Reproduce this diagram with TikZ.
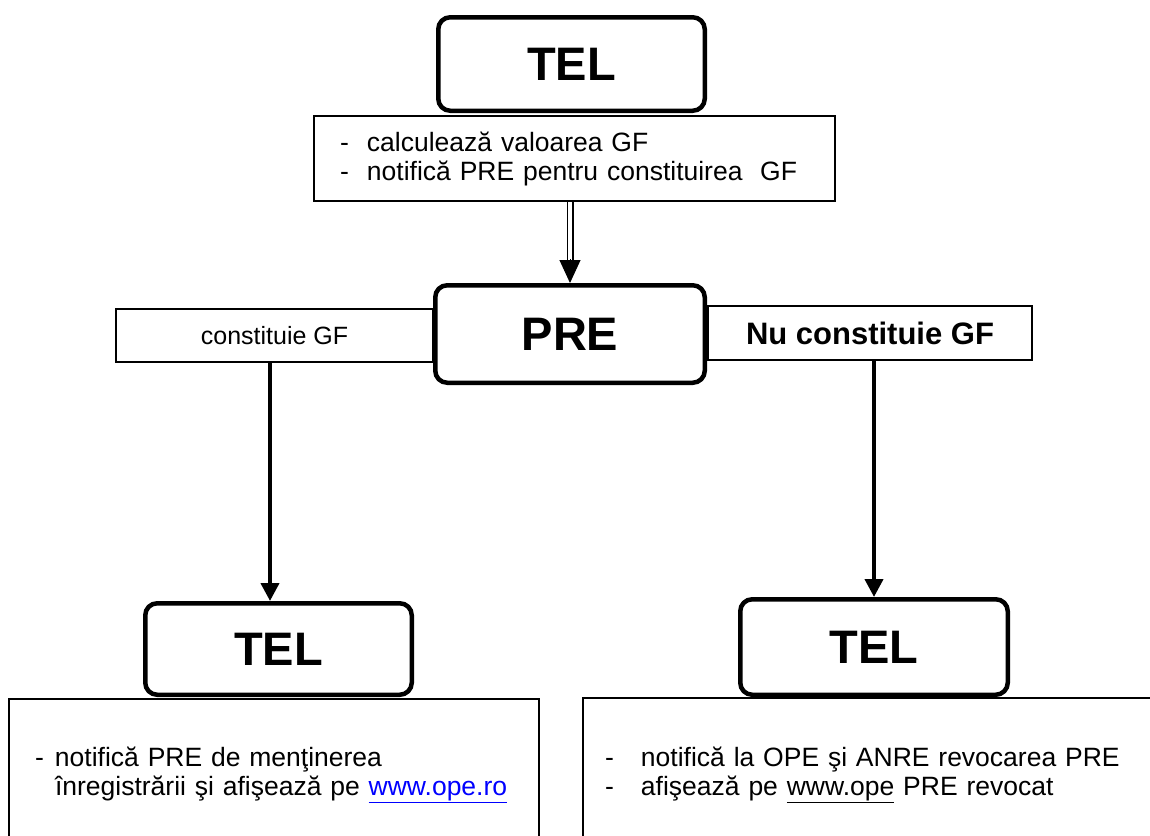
\documentclass[tikz,border=0pt]{standalone}
\usepackage{fontspec}
\setmainfont{Liberation Sans}
\usetikzlibrary{arrows.meta}

\newcommand{\dashitem}[2]{\makebox[#1][l]{-}#2}

\begin{document}
\begin{tikzpicture}[x=1pt, y=-1pt,
    bigbox/.style={draw, line width=4.5pt, rounded corners=12pt, inner sep=0pt,
      font=\fontsize{47}{56}\selectfont\bfseries},
    txtbox/.style={draw, line width=2pt, inner sep=0pt},
    arr/.style={line width=4pt, -{Triangle[length=18pt, width=18pt]}}]
    % cadrul imaginii
    \useasboundingbox (0,0) rectangle (1150,835);
    \clip (0,0) rectangle (1150,835);

    % pozitiile casetelor
    \coordinate (T0) at (571.5,64);
    \coordinate (C0) at (574.5,158.5);
    \coordinate (P) at (570,334);
    \coordinate (CL) at (274.5,335.5);
    \coordinate (CR) at (870,333);
    \coordinate (TL) at (278.5,649);
    \coordinate (TR) at (874,647);
    \coordinate (BL) at (274,775);
    \coordinate (BR) at (871.5,775);
    \coordinate (ldrop) at (270,0);

    % casetele de text
    \node[txtbox, minimum width=521pt, minimum height=85pt, text width=469pt,
      align=left, font=\fontsize{26.5}{29}\selectfont] (calc) at (C0)
      {\dashitem{27pt}{calculează valoarea GF}\\
       \dashitem{27pt}{notifică PRE pentru constituirea\ \ GF}};
    \node[txtbox, minimum width=317pt, minimum height=53pt,
      font=\fontsize{25}{29}\selectfont] (cons) at (CL) {constituie GF};
    \node[txtbox, minimum width=324pt, minimum height=54pt,
      font=\fontsize{31}{34}\selectfont\bfseries] (nu) at (CR) {Nu constituie GF};
    \node[txtbox, minimum width=530pt, minimum height=152pt, text width=478pt,
      align=left, font=\fontsize{26.5}{28.5}\selectfont] (notl) at (BL)
      {\dashitem{20pt}{notifică PRE de menţinerea}\\
       \hspace*{20pt}înregistrării şi afişează pe \textcolor{blue}{\underline{www.ope.ro}}};
    \node[txtbox, minimum width=577pt, minimum height=154pt, text width=533pt,
      align=left, font=\fontsize{26.5}{28.5}\selectfont] (notr) at (BR)
      {\dashitem{36pt}{notifică la OPE şi ANRE revocarea PRE}\\
       \dashitem{36pt}{afişează pe \underline{www.ope} PRE revocat}};

    % casetele rotunjite
    \node[bigbox, minimum width=266.5pt, minimum height=93.5pt] (tel) at (T0) {TEL};
    \node[bigbox, minimum width=269.5pt, minimum height=97.5pt] (pre) at (P) {PRE};
    \node[bigbox, minimum width=266.5pt, minimum height=91.5pt] (tell) at (TL) {TEL};
    \node[bigbox, minimum width=267.5pt, minimum height=95.5pt] (telr) at (TR) {TEL};

    % sagetile
    \draw[line width=1.5pt, double, double distance=4pt]
      (calc.south -| pre.north) -- ([yshift=22pt]pre.north);
    \draw[line width=1pt, -{Triangle[length=23pt, width=21pt]}]
      ([yshift=24pt]pre.north) -- (pre.north);
    \draw[arr] (cons.south -| ldrop) -- (tell.north -| ldrop);
    \draw[arr] (nu.south -| telr.north) -- (telr.north);
\end{tikzpicture}
\end{document}
